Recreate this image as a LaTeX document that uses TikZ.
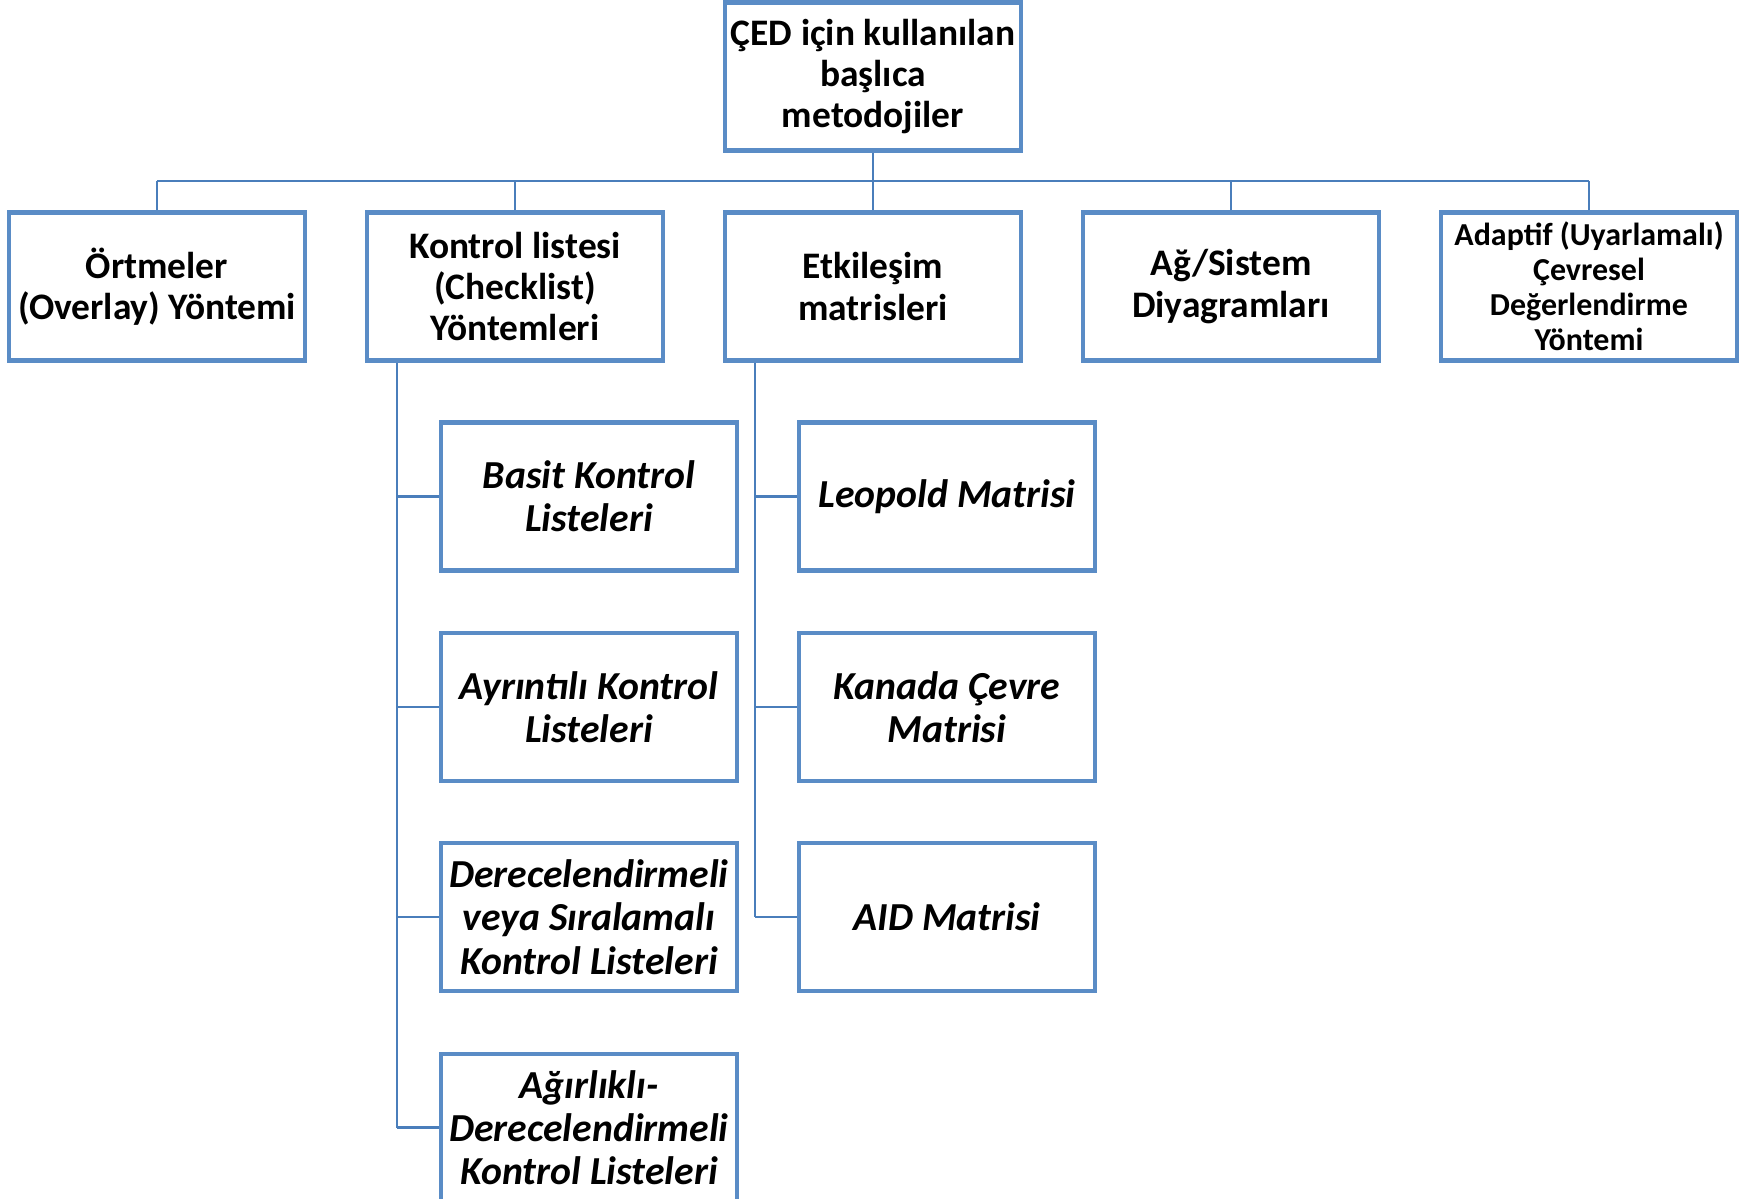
\documentclass[tikz,border=0pt]{standalone}
\usepackage{fontspec}
\setmainfont{Carlito}
\definecolor{kutumavi}{HTML}{5A8CC6}
\definecolor{cizgimavi}{HTML}{4A7EBB}
\tikzset{
  kutu/.style={draw=kutumavi, line width=2.3pt, fill=white, minimum width=5.93cm,
    minimum height=2.96cm, align=center, inner sep=1pt,
    font=\bfseries\fontsize{21.3}{23.5}\selectfont},
  altkutu/.style={kutu, font=\bfseries\itshape\fontsize{22.6}{24.6}\selectfont},
  baglanti/.style={draw=cizgimavi, line width=1.5pt}
}

\begin{document}
\begin{tikzpicture}[x=0.02cm, y=-0.02cm]

    \useasboundingbox (0,0) rectangle (1754,1199);

    \coordinate (bus) at (0,181);
    \coordinate (kol1) at (397,0);
    \coordinate (kol2) at (755,0);

    \node[kutu] (ced) at (873,76.5) {ÇED için kullanılan\\başlıca\\metodojiler};

    \node[kutu] (ortme) at (157,286.5) {Örtmeler\\(Overlay) Yöntemi};
    \node[kutu] (kontrol) at (515,286.5) {Kontrol listesi\\(Checklist)\\Yöntemleri};
    \node[kutu] (etki) at (873,286.5) {Etkileşim\\matrisleri};
    \node[kutu] (ag) at (1231,286.5) {Ağ/Sistem\\Diyagramları};
    \node[kutu, font=\bfseries\fontsize{18.2}{20}\selectfont] (adaptif) at (1589,286.5)
      {Adaptif (Uyarlamalı)\\Çevresel\\Değerlendirme\\Yöntemi};

    \node[altkutu] (basit) at (589,496.5) {Basit Kontrol\\Listeleri};
    \node[altkutu] (ayrinti) at (589,707) {Ayrıntılı Kontrol\\Listeleri};
    \node[altkutu] (derece) at (589,917) {Derecelendirmeli\\veya Sıralamalı\\Kontrol Listeleri};
    \node[altkutu] (agirlik) at (589,1127.5) {Ağırlıklı-\\Derecelendirmeli\\Kontrol Listeleri};

    \node[altkutu] (leopold) at (947,496.5) {Leopold Matrisi};
    \node[altkutu] (kanada) at (947,707) {Kanada Çevre\\Matrisi};
    \node[altkutu] (aid) at (947,917) {AID Matrisi};

    \draw[baglanti] (ced.south) -- (ced.south |- bus);
    \draw[baglanti] (ortme.north |- bus) -- (adaptif.north |- bus);
    \foreach \n in {ortme,kontrol,etki,ag,adaptif}
      \draw[baglanti] (\n.north) -- (\n.north |- bus);

    \draw[baglanti] (kol1 |- kontrol.south) -- (kol1 |- agirlik.west);
    \foreach \n in {basit,ayrinti,derece,agirlik}
      \draw[baglanti] (\n.west) -- (\n.west -| kol1);

    \draw[baglanti] (kol2 |- etki.south) -- (kol2 |- aid.west);
    \foreach \n in {leopold,kanada,aid}
      \draw[baglanti] (\n.west) -- (\n.west -| kol2);

\end{tikzpicture}
\end{document}
